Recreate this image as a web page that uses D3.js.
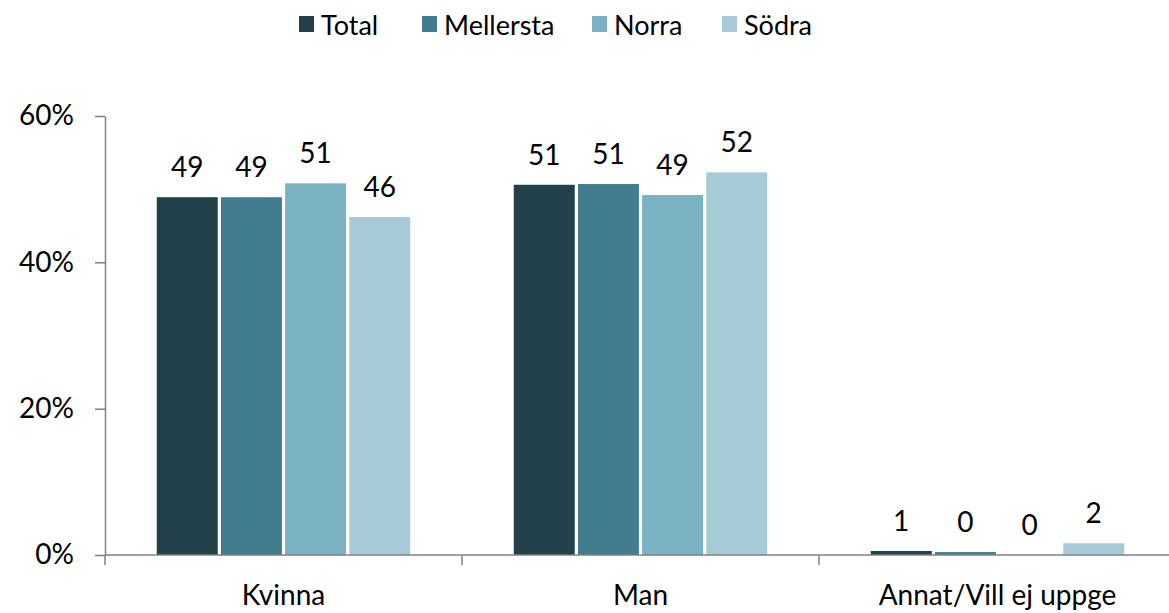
<!DOCTYPE html>
<html>
<head>
<meta charset="utf-8">
<script src="https://cdn.jsdelivr.net/npm/d3@7"></script>
<style>
  body { margin: 0; background: #fff; }
  text { font-family: Lato, "Open Sans", sans-serif; fill: #000; }
</style>
</head>
<body>
<svg id="chart" width="1169" height="613"></svg>
<script>
const categories = ["Kvinna", "Man", "Annat/Vill ej uppge"];
const seriesNames = ["Total", "Mellersta", "Norra", "Södra"];
const totalValues = [48.9, 50.6, 0.55];
const mellerstaValues = [48.9, 50.7, 0.4];
const norraValues = [50.8, 49.2, 0];
const sodraValues = [46.2, 52.3, 1.6];
const yTicks = [0, 20, 40, 60];
const colors = ["#22404a", "#417c8f", "#7ab1c3", "#a6cbd6"];

const seriesValues = [totalValues, mellerstaValues, norraValues, sodraValues];

const svg = d3.select("#chart");
const margin = { left: 105, right: -7, top: 116, bottom: 58 };
const width = +svg.attr("width");
const height = +svg.attr("height");
const fontSize = 28;

const x = d3.scaleBand()
  .domain(categories)
  .range([margin.left, width - margin.right])
  .paddingInner(0.29)
  .paddingOuter(0.145);

const xFull = d3.scaleBand()
  .domain(categories)
  .range([margin.left, width - margin.right]);

const xInner = d3.scaleBand()
  .domain(seriesNames)
  .range([0, x.bandwidth()])
  .paddingInner(0.05);

const y = d3.scaleLinear()
  .domain([0, 60])
  .range([height - margin.bottom, margin.top]);

const color = d3.scaleOrdinal().domain(seriesNames).range(colors);

// y axis
const yAxis = svg.append("g")
  .attr("transform", `translate(${margin.left},0)`)
  .call(d3.axisLeft(y).tickValues(yTicks).tickFormat(d => d + "%").tickSize(10).tickSizeOuter(0));
yAxis.select(".domain").attr("stroke", "#808080").attr("stroke-width", 1.5);
yAxis.selectAll(".tick line").attr("stroke", "#808080").attr("stroke-width", 1.5);
yAxis.selectAll(".tick text")
  .attr("x", -31)
  .attr("font-size", fontSize)
  .style("font-family", "Lato, 'Open Sans', sans-serif");

// bars
const groups = svg.append("g")
  .selectAll("g")
  .data(categories)
  .join("g")
  .attr("transform", d => `translate(${x(d)},0)`);

groups.selectAll("rect")
  .data((d, i) => seriesNames.map((s, j) => ({ s, v: seriesValues[j][i] })))
  .join("rect")
  .attr("x", d => xInner(d.s))
  .attr("width", xInner.bandwidth())
  .attr("y", d => y(d.v))
  .attr("height", d => y(0) - y(d.v))
  .attr("fill", d => color(d.s));

groups.selectAll("text")
  .data((d, i) => seriesNames.map((s, j) => ({ s, v: seriesValues[j][i] })))
  .join("text")
  .attr("x", d => xInner(d.s) + xInner.bandwidth() / 2)
  .attr("y", d => y(d.v) - 20)
  .attr("text-anchor", "middle")
  .attr("font-size", fontSize)
  .text(d => Math.round(d.v));

// x axis
const xAxisG = svg.append("g").attr("transform", `translate(0,${y(0)})`);
xAxisG.append("line")
  .attr("x1", margin.left)
  .attr("x2", width)
  .attr("stroke", "#808080")
  .attr("stroke-width", 1.5);
xAxisG.selectAll(".xtick")
  .data(categories)
  .join("line")
  .attr("class", "xtick")
  .attr("x1", d => xFull(d))
  .attr("x2", d => xFull(d))
  .attr("y1", 0)
  .attr("y2", 10)
  .attr("stroke", "#808080")
  .attr("stroke-width", 1.5);
xAxisG.selectAll(".xlabel")
  .data(categories)
  .join("text")
  .attr("class", "xlabel")
  .attr("x", d => xFull(d) + xFull.bandwidth() / 2)
  .attr("y", 50)
  .attr("text-anchor", "middle")
  .attr("font-size", fontSize)
  .text(d => d);

// legend
const legendX = [299, 422, 592, 722];
const legend = svg.append("g");
const items = legend.selectAll("g")
  .data(seriesNames)
  .join("g")
  .attr("transform", (d, i) => `translate(${legendX[i]},16)`);
items.append("rect")
  .attr("width", 15)
  .attr("height", 16)
  .attr("fill", d => color(d));
items.append("text")
  .attr("x", 22)
  .attr("y", 19)
  .attr("font-size", 27)
  .text(d => d);
</script>
</body>
</html>
